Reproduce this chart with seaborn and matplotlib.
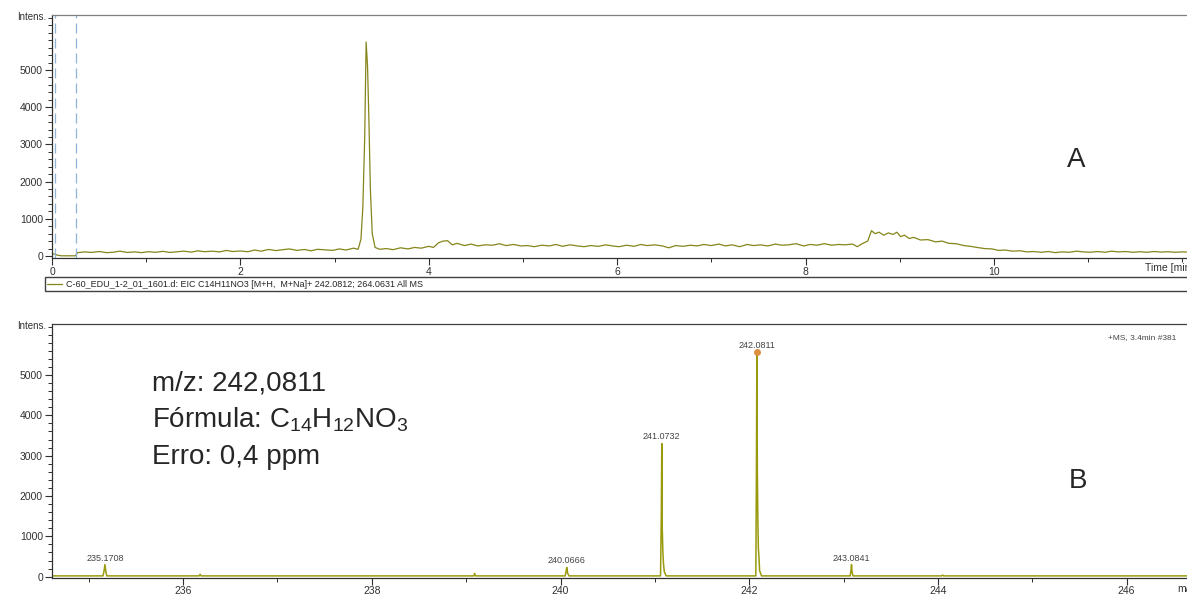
import matplotlib
matplotlib.use("Agg")
import matplotlib.pyplot as plt
import seaborn as sns
from matplotlib.ticker import MultipleLocator

sns.set_style("ticks")
plt.rcParams["font.family"] = ["Liberation Sans", "DejaVu Sans"]
plt.rcParams["mathtext.fontset"] = "custom"
plt.rcParams["mathtext.rm"] = "Liberation Sans"
plt.rcParams["mathtext.it"] = "Liberation Sans:italic"

# ---- Extracted ion chromatogram (time in min, intensity) ----
chrom_time = [
    0.00, 0.03, 0.06, 0.10, 0.15, 0.20, 0.25, 0.27, 0.35, 0.42,
    0.50, 0.58, 0.65, 0.72, 0.80, 0.88, 0.95, 1.02, 1.10, 1.18,
    1.25, 1.32, 1.40, 1.48, 1.55, 1.62, 1.70, 1.78, 1.85, 1.92,
    2.00, 2.08, 2.15, 2.22, 2.30, 2.38, 2.45, 2.52, 2.60, 2.68,
    2.75, 2.82, 2.90, 2.98, 3.05, 3.12, 3.20, 3.25, 3.28, 3.30,
    3.32, 3.335, 3.35, 3.365, 3.38, 3.40, 3.43, 3.48, 3.55, 3.62,
    3.70, 3.78, 3.85, 3.92, 4.00, 4.05, 4.10, 4.15, 4.20, 4.25,
    4.30, 4.38, 4.45, 4.52, 4.60, 4.68, 4.75, 4.82, 4.90, 4.98,
    5.05, 5.12, 5.20, 5.28, 5.35, 5.42, 5.50, 5.58, 5.65, 5.72,
    5.80, 5.88, 5.95, 6.02, 6.10, 6.18, 6.25, 6.32, 6.40, 6.48,
    6.55, 6.62, 6.70, 6.78, 6.85, 6.92, 7.00, 7.08, 7.15, 7.22,
    7.30, 7.38, 7.45, 7.52, 7.60, 7.68, 7.75, 7.82, 7.90, 7.98,
    8.05, 8.12, 8.20, 8.28, 8.35, 8.42, 8.50, 8.55, 8.60, 8.66,
    8.70, 8.74, 8.78, 8.83, 8.88, 8.93, 8.97, 9.01, 9.05, 9.10,
    9.15, 9.22, 9.30, 9.38, 9.45, 9.52, 9.60, 9.68, 9.75, 9.82,
    9.90, 9.98, 10.05, 10.12, 10.20, 10.28, 10.35, 10.42, 10.50, 10.58,
    10.65, 10.72, 10.80, 10.88, 10.95, 11.02, 11.10, 11.18, 11.25, 11.32,
    11.40, 11.48, 11.55, 11.62, 11.70, 11.78, 11.85, 11.92, 12.00, 12.05,
]
chrom_int = [
    60, 50, 20, 5, 5, 5, 5, 90, 110, 95,
    120, 90, 100, 130, 95, 110, 90, 115, 100, 125,
    95, 110, 130, 105, 140, 115, 130, 110, 150, 120,
    135, 115, 160, 130, 175, 145, 170, 190, 150, 175,
    140, 180, 165, 150, 190, 160, 210, 180, 450, 1300,
    3200, 5750, 5100, 3600, 1800, 600, 230, 180, 200, 170,
    220, 190, 230, 210, 260, 230, 350, 400, 410, 300,
    340, 280, 320, 270, 300, 290, 330, 280, 310, 270,
    280, 250, 290, 270, 310, 260, 300, 270, 250, 280,
    260, 300, 270, 250, 290, 260, 310, 280, 300, 270,
    220, 280, 260, 290, 270, 310, 280, 320, 270, 300,
    250, 310, 280, 300, 270, 320, 290, 300, 330, 270,
    310, 290, 330, 290, 310, 300, 320, 250, 330, 400,
    680, 600, 640, 560, 620, 580, 640, 520, 560, 470,
    500, 430, 440, 380, 400, 340, 330, 280, 260, 230,
    200, 190, 150, 160, 130, 140, 110, 120, 100, 120,
    90, 110, 100, 130, 110, 100, 120, 100, 130, 110,
    120, 100, 115, 100, 120, 105, 115, 100, 110, 105,
]
marker_times = [0.03, 0.255]
time_ticks = [0, 2, 4, 6, 8, 10]
intens_ticks = [0, 1000, 2000, 3000, 4000, 5000]

# ---- Mass spectrum at 3.4 min (m/z, intensity) ----
spec_mz = [
    234.61, 235.15, 235.16, 235.1708, 235.18, 235.19,
    236.17, 236.18, 236.19, 239.08, 239.09, 239.10,
    240.05, 240.06, 240.0666, 240.075, 240.09,
    241.06, 241.068, 241.0732, 241.078, 241.085, 241.092, 241.10, 241.12,
    242.07, 242.076, 242.0811, 242.086, 242.092, 242.097, 242.104, 242.11, 242.13,
    243.07, 243.078, 243.0841, 243.09, 243.10,
    244.04, 244.05, 244.06, 246.64,
]
spec_int = [
    20, 20, 120, 300, 150, 20,
    20, 60, 20, 20, 80, 20,
    20, 150, 230, 90, 20,
    20, 1500, 3300, 1200, 600, 300, 120, 20,
    20, 2500, 5570, 2600, 1290, 700, 450, 150, 20,
    20, 150, 300, 120, 20,
    20, 40, 20, 20,
]
mz_ticks = [236, 238, 240, 242, 244, 246]
label_mz = [235.1708, 240.0666, 241.0732, 242.0811, 243.0841]
label_int = [300, 230, 3300, 5570, 300]

legend_text = ("C-60_EDU_1-2_01_1601.d: EIC C14H11NO3 [M+H,  M+Na]+ "
               "242.0812; 264.0631 All MS")

W, H = 1187, 594
fig = plt.figure(figsize=(W / 100, H / 100), dpi=100)
ax1 = fig.add_axes([52 / W, 1 - 258 / H, 1 - 52 / W, (258 - 15) / H])
ax2 = fig.add_axes([52 / W, 1 - 577.7 / H, 1 - 52 / W, (577.7 - 324) / H])

trace_color = "#85851a"
spec_color = "#9a9a0c"

sns.lineplot(x=chrom_time, y=chrom_int, ax=ax1, color=trace_color,
             linewidth=0.9, estimator=None, sort=False)
trace_line = ax1.get_lines()[0]
for t in marker_times:
    ax1.axvline(t, color="#8fb4d8", linewidth=0.9, linestyle=(0, (8, 4)))
ax1.set_xlim(0, 12.05)
ax1.set_ylim(-54, 6478)

sns.lineplot(x=spec_mz, y=spec_int, ax=ax2, color=spec_color,
             linewidth=1.1, estimator=None, sort=False)
ax2.plot([label_mz[3]], [label_int[3]], "o", color="#dd9040",
         markersize=4, zorder=4)
for mz, h in zip(label_mz, label_int):
    ax2.annotate(f"{mz:.4f}", xy=(mz, h), xytext=(0, 1.5),
                 textcoords="offset points", ha="center", va="bottom",
                 fontsize=6.5, color="#444444")
ax2.set_xlim(234.61, 246.64)
ax2.set_ylim(-25, 6264)

for ax, top_col in ((ax1, "#808080"), (ax2, "#404040")):
    ax.set_xlabel("")
    ax.set_ylabel("")
    ax.spines["right"].set_visible(False)
    ax.spines["top"].set_color(top_col)
    ax.spines["left"].set_color("#303030")
    ax.spines["bottom"].set_color("#303030")
    for s in ax.spines.values():
        s.set_linewidth(0.9)
    ax.set_yticks(intens_ticks)
    ax.yaxis.set_minor_locator(MultipleLocator(200))
    ax.xaxis.set_minor_locator(MultipleLocator(1))
    ax.tick_params(which="major", direction="out", length=5, width=0.8,
                   labelsize=7.5, color="#303030", labelcolor="#303030",
                   pad=1.5)
    ax.tick_params(which="minor", direction="out", length=3, width=0.7,
                   color="#303030")

ax1.set_xticks(time_ticks)
ax2.set_xticks(mz_ticks)
ax2.tick_params(axis="x", which="major", pad=1)

# axis captions in instrument style
fig.text(46 / W, 1 - 17 / H, "Intens.", ha="right", va="center",
         fontsize=7, color="#303030")
fig.text(46 / W, 1 - 326 / H, "Intens.", ha="right", va="center",
         fontsize=7, color="#303030")
fig.text(1145 / W, 1 - 268 / H, "Time [min]", ha="left", va="center",
         fontsize=7.5, color="#303030")
fig.text(1177 / W, 1 - 589 / H, "m/z", ha="left", va="center",
         fontsize=7.5, color="#303030")
fig.text(1108 / W, 1 - 338 / H, "+MS, 3.4min #381", ha="left",
         va="center", fontsize=6, color="#444444")

# trace legend spanning the width below the chromatogram
fig.legend(handles=[trace_line], labels=[legend_text], loc="upper left",
           bbox_to_anchor=(45 / W, 1 - 278 / H, 1.0, 0.001), mode="expand",
           fontsize=6.5, frameon=True, fancybox=False, framealpha=1,
           edgecolor="#404040", borderpad=0.25, borderaxespad=0,
           handlelength=1.6, handletextpad=0.5)

# panel letters and annotation
fig.text(1076 / W, 1 - 160 / H, "A", ha="center", va="center", fontsize=20)
fig.text(1078 / W, 1 - 481 / H, "B", ha="center", va="center", fontsize=20)
fig.text(152 / W, 1 - 383 / H, "m/z: 242,0811", ha="left", va="center",
         fontsize=20)
fig.text(152 / W, 1 - 420 / H,
         r"Fórmula: C$_{\mathrm{14}}$H$_{\mathrm{12}}$NO$_{\mathrm{3}}$",
         ha="left", va="center", fontsize=20)
fig.text(152 / W, 1 - 457 / H, "Erro: 0,4 ppm", ha="left", va="center",
         fontsize=20)

fig.savefig("out.png", dpi=100)
